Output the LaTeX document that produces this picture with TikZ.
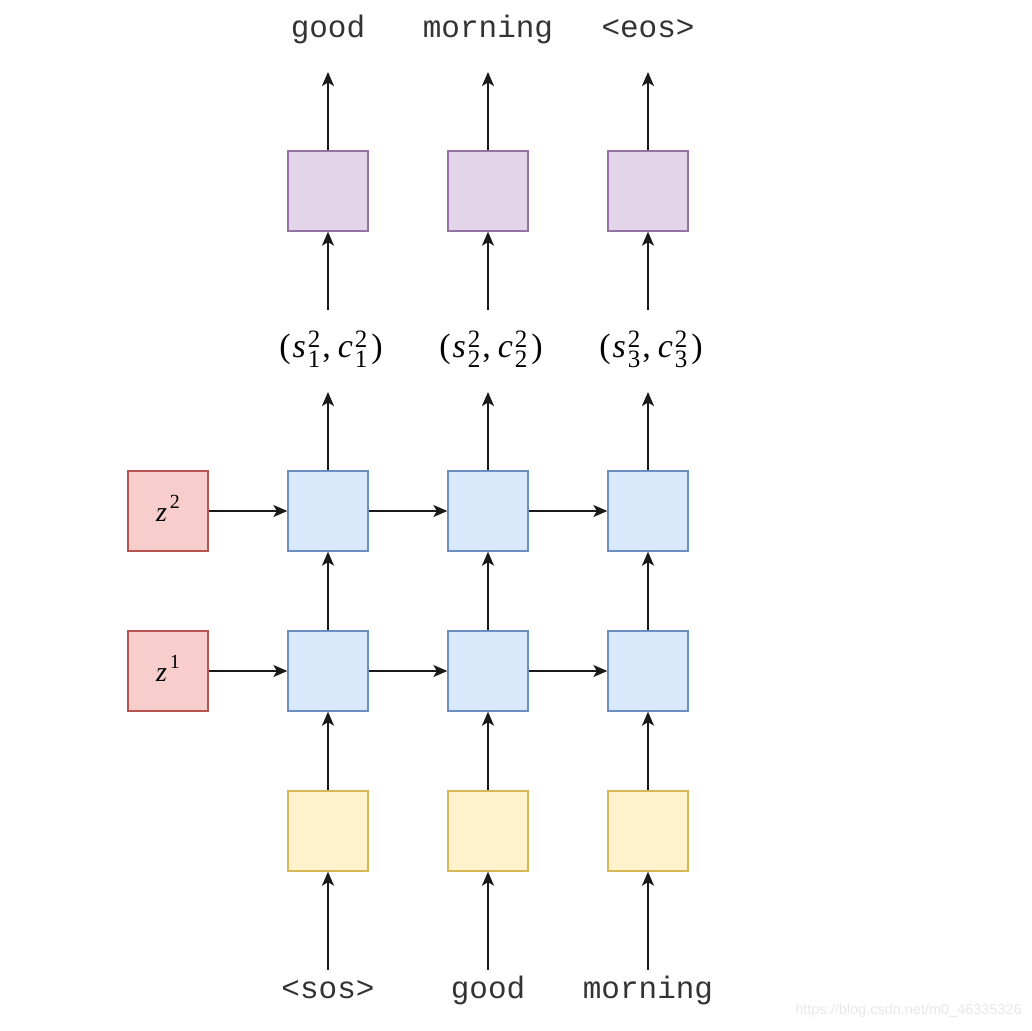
\documentclass[tikz,border=0pt]{standalone}
\usepackage{fontspec}
\setmainfont{Liberation Serif}
\setmonofont{Liberation Mono}
\newfontfamily\wmfont{Liberation Sans}
\usetikzlibrary{arrows.meta}
\definecolor{pfill}{HTML}{E1D5E7}\definecolor{pdraw}{HTML}{9673A6}
\definecolor{bfill}{HTML}{DAE8FC}\definecolor{bdraw}{HTML}{6C8EBF}
\definecolor{yfill}{HTML}{FFF2CC}\definecolor{ydraw}{HTML}{D6B656}
\definecolor{rfill}{HTML}{F8CECC}\definecolor{rdraw}{HTML}{B85450}
\newcommand\scrfont{\fontsize{25}{25}\selectfont\upshape}
\newcommand\ssb[3]{\textit{#1}\kern2pt\rlap{\raisebox{10pt}{\scrfont #2}}\raisebox{-10pt}{\scrfont #3}}
\newcommand\mlabel[1]{(\kern2pt\ssb{s}{2}{#1}\kern2pt,\kern7pt\ssb{c}{2}{#1}\kern4pt)}
\newcommand\zlabel[1]{\textit{z}\kern3pt\raisebox{13pt}{\fontsize{20}{20}\selectfont #1}}
\tikzset{
  cell/.style={minimum width=80pt,minimum height=80pt,inner sep=0pt,line width=1.3pt,draw},
  pbox/.style={cell,fill=pfill,draw=pdraw},
  bbox/.style={cell,fill=bfill,draw=bdraw},
  ybox/.style={cell,fill=yfill,draw=ydraw},
  rbox/.style={cell,fill=rfill,draw=rdraw},
  zlab/.style={font=\fontsize{28}{30}\selectfont,inner sep=0pt,anchor=base},
  word/.style={font=\ttfamily\fontsize{31}{34}\selectfont,inner sep=0pt,text=black!80},
  mlab/.style={font=\fontsize{34}{36}\selectfont,inner sep=0pt,anchor=base},
  arr/.style={line width=1.9pt,-{Stealth[length=14pt,width=12pt,inset=3.5pt]},black!90}
}
\begin{document}
\begin{tikzpicture}[x=1pt,y=-1pt]
\useasboundingbox (0,0) rectangle (1032,1030);
% columns 328, 488, 648
\foreach \i/\x in {1/328,2/488,3/648}{
  \node[pbox] (p\i) at (\x,191) {};
  \node[bbox] (t\i) at (\x,511) {};
  \node[bbox] (b\i) at (\x,671) {};
  \node[ybox] (y\i) at (\x,831) {};
  \coordinate (po\i) at (\x,72);
  \coordinate (si\i) at (\x,310);
  \coordinate (so\i) at (\x,392);
  \coordinate (yi\i) at (\x,970);
}
\node[rbox] (z2) at (168,511) {};
\node[rbox] (z1) at (168,671) {};
\node[zlab] (zl2) at (168,521) {\zlabel{2}};
\node[zlab] (zl1) at (168,681) {\zlabel{1}};
% labels
\node[word] (o1) at (328,29) {good};
\node[word] (o2) at (488,29) {morning};
\node[word] (o3) at (648,29) {<eos>};
\node[mlab] (s1) at (331,357) {\mlabel{1}};
\node[mlab] (s2) at (491,357) {\mlabel{2}};
\node[mlab] (s3) at (651,357) {\mlabel{3}};
\node[word] (i1) at (328,990) {<sos>};
\node[word] (i2) at (488,990) {good};
\node[word] (i3) at (648,990) {morning};
% arrows
\foreach \i in {1,2,3}{
  \draw[arr] (p\i.north) -- (po\i);
  \draw[arr] (si\i) -- (p\i.south);
  \draw[arr] (t\i.north) -- (so\i);
  \draw[arr] (b\i.north) -- (t\i.south);
  \draw[arr] (y\i.north) -- (b\i.south);
  \draw[arr] (yi\i) -- (y\i.south);
}
\draw[arr] (z2.east) -- (t1.west);
\draw[arr] (t1.east) -- (t2.west);
\draw[arr] (t2.east) -- (t3.west);
\draw[arr] (z1.east) -- (b1.west);
\draw[arr] (b1.east) -- (b2.west);
\draw[arr] (b2.east) -- (b3.west);
% watermark
\node[font=\wmfont\fontsize{14.5}{16}\selectfont,text=black!9,anchor=east,inner sep=0pt] (wm) at (1022,1011) {https://blog.csdn.net/m0\_46335326};
\end{tikzpicture}
\end{document}
